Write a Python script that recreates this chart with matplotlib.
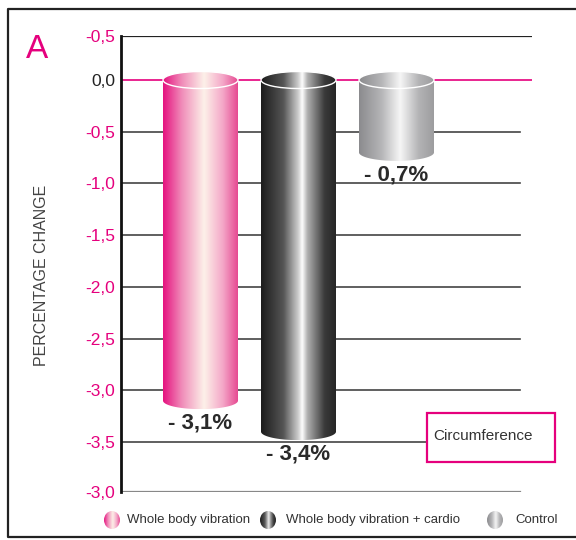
import numpy as np
import matplotlib
matplotlib.use("Agg")
import matplotlib.pyplot as plt
from matplotlib.colors import LinearSegmentedColormap
from matplotlib.path import Path
from matplotlib.patches import PathPatch, Ellipse, Rectangle

plt.rcParams["font.family"] = ["Liberation Sans", "DejaVu Sans"]

# data
groups = ["Whole body vibration", "Whole body vibration + cardio", "Control"]
changes = [-3.1, -3.4, -0.7]
value_labels = ["- 3,1%", "- 3,4%", "- 0,7%"]
grid_values = [0.0, -0.5, -1.0, -1.5, -2.0, -2.5, -3.0, -3.5]
tick_labels = ["-0,5", "0,0", "-0,5", "-1,0", "-1,5", "-2,0", "-2,5", "-3,0", "-3,5", "-3,0"]
panel_label = "A"
y_title = "PERCENTAGE CHANGE"
box_text = "Circumference"

MAGENTA = "#e5007d"

gradients = [
    [(0, "#e5127f"), (0.25, "#f08cb9"), (0.55, "#fdf1e9"), (0.8, "#f4a7c8"), (1, "#e64a92")],
    [(0, "#1c1c1c"), (0.3, "#555555"), (0.5, "#cfcfcf"), (0.55, "#ffffff"),
     (0.62, "#b0b0b0"), (0.85, "#3a3a3a"), (1, "#262626")],
    [(0, "#8b8b8e"), (0.3, "#b5b5b7"), (0.55, "#f6f6f6"), (0.8, "#b3b3b5"), (1, "#9d9d9f")],
]
cmaps = [LinearSegmentedColormap.from_list(f"cyl{i}", g) for i, g in enumerate(gradients)]


def cylinder(ax, x, top, bottom, width, ry, cmap, z=3):
    t = np.linspace(0, np.pi, 80)
    hw = width / 2
    upper = np.column_stack([x - hw * np.cos(t), top + ry * np.sin(t)])
    lower = np.column_stack([x + hw * np.cos(t), bottom - ry * np.sin(t)])
    verts = np.vstack([upper, lower, upper[:1]])
    patch = PathPatch(Path(verts, closed=True), facecolor="none", edgecolor="none")
    ax.add_patch(patch)
    grad = np.linspace(0, 1, 256).reshape(1, -1)
    im = ax.imshow(grad, cmap=cmap, extent=[x - hw, x + hw, bottom - ry, top + ry],
                   aspect="auto", zorder=z, interpolation="bicubic")
    im.set_clip_path(patch)
    ax.add_patch(Ellipse((x, top), width, 2 * ry, facecolor="none",
                         edgecolor="white", lw=1.0, zorder=z + 1))


fig = plt.figure(figsize=(5.76, 5.4), dpi=100)

# main axes, pixel layout of the reference
unit = 103.4  # px per 1 %
ytop = 44 / unit
ybot = -3.5 - 50 / unit
ax = fig.add_axes([121 / 576, 1 - 492 / 540, 411 / 576, 456 / 540])

x = np.arange(len(groups))
xlim = (-79.5 / 98, (411 - 79.5) / 98)
width = 75 / 98
ry = 8.5 / unit

short = (520 - 121) / 411
ax.axhline(ytop, xmax=1, color="#222222", lw=1.6, zorder=1)
for g in grid_values:
    if g == 0:
        ax.axhline(g, xmax=1, color=MAGENTA, lw=1.2, zorder=1)
    else:
        ax.axhline(g, xmax=short, color="#444444", lw=1.2, zorder=1)
ax.axhline(ybot, xmax=short, color="#888888", lw=1.6, zorder=1)

for i, (xi, v) in enumerate(zip(x, changes)):
    cylinder(ax, xi, 0, v, width, ry, cmaps[i])
    ax.text(xi, v - 0.215, value_labels[i], ha="center", va="center",
            fontsize=16, fontweight="bold", color="#2a2a2a", zorder=5)

ax.set_xlim(*xlim)
ax.set_ylim(ybot, ytop)
ax.set_xticks([])
ax.set_yticks([ytop] + grid_values + [ybot], tick_labels)
ax.tick_params(axis="y", length=0, pad=4, labelsize=12.5)
for lab, val in zip(ax.get_yticklabels(), [ytop] + grid_values + [ybot]):
    lab.set_color("#222222" if val == 0 else MAGENTA)
for s in ["top", "right", "bottom"]:
    ax.spines[s].set_visible(False)
ax.spines["left"].set_linewidth(2.0)
ax.spines["left"].set_color("#111111")
ax.patch.set_visible(False)

# overlay in pixel coordinates for frame, labels and legend
ov = fig.add_axes([0, 0, 1, 1])
ov.patch.set_visible(False)
ov.axis("off")
ov.plot([576, 8, 8, 576], [9, 9, 537, 537], color="#222222", lw=1.6)
ov.text(26, 50, panel_label, fontsize=24, color=MAGENTA, va="center", ha="left")
ov.text(42, 275, y_title, rotation=90, fontsize=11.5, color="#444444",
        va="center", ha="center")

ov.add_patch(Rectangle((427, 413), 128, 49, facecolor="white",
                       edgecolor=MAGENTA, lw=1.6, zorder=4))
ov.text(433, 436, box_text, fontsize=11, color="#333333", va="center",
        ha="left", zorder=5)

icon_x = [112, 268, 495]
text_x = [127, 286, 515]
for i, name in enumerate(groups):
    e = Ellipse((icon_x[i], 520), 16, 18, facecolor="none", edgecolor="none")
    ov.add_patch(e)
    im = ov.imshow(np.linspace(0, 1, 256).reshape(1, -1), cmap=cmaps[i],
                   extent=[icon_x[i] - 8, icon_x[i] + 8, 529, 511], aspect="auto",
                   interpolation="bicubic")
    im.set_clip_path(e)
    ov.text(text_x[i], 520, name, fontsize=9.5, color="#333333",
            va="center", ha="left")

ov.set_xlim(0, 576)
ov.set_ylim(540, 0)

fig.savefig("out.png", dpi=100)
